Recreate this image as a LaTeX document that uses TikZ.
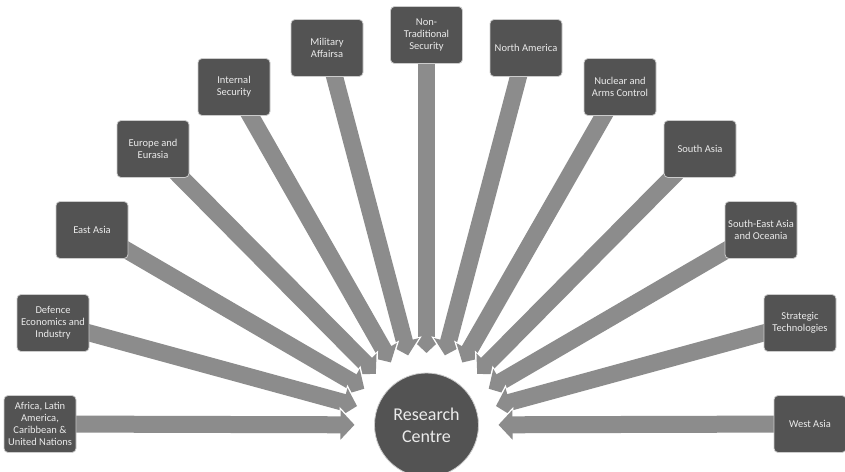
\documentclass[tikz,border=0pt]{standalone}
\usepackage{fontspec}
\setmainfont{Carlito}
\usetikzlibrary{arrows.meta,calc,backgrounds}
\definecolor{boxc}{HTML}{535353}
\definecolor{arrc}{HTML}{8C8C8C}
\begin{document}
\begin{tikzpicture}[x=1pt,y=-1pt,
  box/.style={draw=white!80!black, line width=0.8pt, fill=boxc, rounded corners=4pt,
    minimum width=72pt, minimum height=57pt, inner sep=1pt, text=white!92!black,
    font=\fontsize{10.5}{12}\selectfont, align=center},
  hub/.style={circle, fill=boxc, draw=white!80!black, line width=0.8pt, minimum size=104pt,
    inner sep=0pt, text=white!92!black, font=\fontsize{18}{22}\selectfont, align=center},
  arrw/.style={draw=white, line width=21pt, -{Triangle[width=35pt,length=17pt]}},
  arrg/.style={draw=arrc, line width=17pt, -{Triangle[width=29pt,length=14pt]}, color=arrc}
]
\useasboundingbox (0,0) rectangle (845,471);
\node[hub] (c) at (426.5,425) {Research\\Centre};
\node[box] (b1) at (40,424) {Africa, Latin\\America,\\Caribbean \&\\United Nations};
\node[box] (b2) at (53,323) {Defence\\Economics and\\Industry};
\node[box] (b3) at (92,230) {East Asia};
\node[box] (b4) at (153,149) {Europe and\\Eurasia};
\node[box] (b5) at (234,87) {Internal\\Security};
\node[box] (b6) at (327,48) {Military\\Affairsa};
\node[box] (b7) at (426.5,35) {Non-\\Traditional\\Security};
\node[box] (b8) at (526,48) {North America};
\node[box] (b9) at (620,87) {Nuclear and\\Arms Control};
\node[box] (b10) at (700,149) {South Asia};
\node[box] (b11) at (761,230) {South-East Asia\\and Oceania};
\node[box] (b12) at (800,323) {Strategic\\Technologies};
\node[box] (b13) at (810,424) {West Asia};
\begin{scope}[on background layer]
\foreach \i in {7,6,8,5,9,4,10,3,11,2,12,1,13} {
  \coordinate (w\i) at ($(c)!70pt!(b\i)$);
  \coordinate (e\i) at ($(c)!72pt!(b\i)$);
  \draw[arrw] (b\i.center) -- (w\i);
  \draw[arrg] (b\i.center) -- (e\i);
}
\end{scope}
\end{tikzpicture}
\end{document}
